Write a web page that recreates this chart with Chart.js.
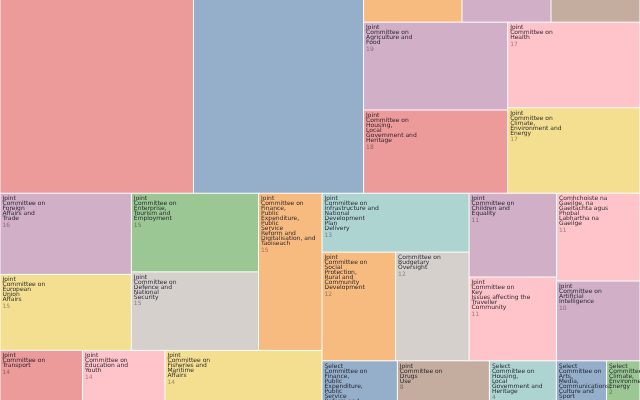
<!DOCTYPE html>
<html>
<head>
<meta charset="utf-8">
<script src="https://cdn.jsdelivr.net/npm/chart.js@4"></script>
<style>
  html, body { margin: 0; padding: 0; background: #fff; overflow: hidden; }
  body { width: 640px; height: 400px; position: relative; }
  /* the chart is square and sits centred in the 400px window */
  #wrap { position: absolute; left: 0; top: -120px; width: 640px; height: 640px; }
</style>
</head>
<body>
<div id="wrap"><canvas id="grafico"></canvas></div>
<script>
// Committees in source order (the colour follows the position in this list)
const committees = [
  "Committee of Public Accounts",
  "Joint Committee on Justice, Home Affairs and Migration",
  "Business Committee",
  "Joint Committee on Further and Higher Education, Research, Innovation and Science",
  "Joint Committee on Arts, Media, Communications, Culture and Sport",
  "Joint Committee on European Union Affairs",
  "Joint Committee on Disability Matters",
  "Joint Committee on Health",
  "Joint Committee on Autism",
  "Committee on Procedure",
  "Select Committee on Finance, Public Expenditure, Public Service Reform and Digitalisation, and Taoiseach",
  "Select Committee on Justice, Home Affairs and Migration",
  "Joint Committee on Housing, Local Government and Heritage",
  "Select Committee on Health",
  "Joint Committee on Enterprise, Tourism and Employment",
  "Joint Committee on Climate, Environment and Energy",
  "Joint Committee on Agriculture and Food",
  "Working Group of Committee Cathaoirligh",
  "Joint Committee on Drugs Use",
  "Joint Committee on Defence and National Security",
  "Select Committee on Arts, Media, Communications, Culture and Sport",
  "Joint Committee on Finance, Public Expenditure, Public Service Reform and Digitalisation, and Taoiseach",
  "Joint Committee on Transport",
  "Select Committee on Social Protection, Rural and Community Development",
  "Select Committee on Climate, Environment and Energy",
  "Select Committee on Agriculture and Food",
  "Joint Committee on Foreign Affairs and Trade",
  "Joint Committee on Education and Youth",
  "Joint Committee on Public Petitions and the Ombudsman",
  "Select Committee on Transport",
  "Select Committee on Education and Youth",
  "Joint Committee on Social Protection, Rural and Community Development",
  "Select Committee on Foreign Affairs and Trade",
  "Joint Committee on Infrastructure and National Development Plan Delivery",
  "Select Committee on Defence and National Security",
  "Joint Committee on Fisheries and Maritime Affairs",
  "Joint Committee on Children and Equality",
  "Joint Committee on Key Issues affecting the Traveller Community",
  "Select Committee on Children and Equality",
  "Committee on Budgetary Oversight",
  "Select Committee on Infrastructure and National Development Plan Delivery",
  "Committee on Members' Interests of Dáil Éireann",
  "Select Committee on Fisheries and Maritime Affairs",
  "Select Committee on Housing, Local Government and Heritage",
  "Select Committee on Enterprise, Tourism and Employment",
  "Select Committee on Further and Higher Education, Research, Innovation and Science",
  "Joint Committee on Artificial Intelligence",
  "Comhchoiste na Gaeilge, na Gaeltachta agus Phobal Labhartha na Gaeilge",
  "Committee on Standing Orders and Dáil Reform"
];

// Meetings per committee
const meetings = [
  80, 21, 91, 13, 13, 15, 19, 17, 19, 7,
  9, 9, 18, 7, 15, 17, 19, 1, 8, 15,
  3, 15, 14, 3, 2, 2, 16, 14, 14, 2,
  2, 12, 2, 13, 2, 14, 11, 11, 2, 12,
  2, 2, 1, 4, 4, 1, 10, 11, 1
];

// Tableau 10, washed out
const palette = [
  'rgba(78,121,167,0.6)', 'rgba(242,142,43,0.6)', 'rgba(225,87,89,0.6)',
  'rgba(118,183,178,0.6)', 'rgba(89,161,79,0.6)', 'rgba(237,201,72,0.6)',
  'rgba(176,122,161,0.6)', 'rgba(255,157,167,0.6)', 'rgba(156,117,95,0.6)',
  'rgba(186,176,172,0.6)'
];

const cells = committees
  .map((name, i) => ({ name, value: meetings[i], color: palette[i % palette.length] }))
  .sort((a, b) => b.value - a.value);

// Binary treemap (same splitting rule as d3.treemapBinary), in 0..1 units.
// aspect = how many pixels one x unit is worth compared with one y unit
function binaryLayout(nodes, aspect) {
  const sums = [0];
  nodes.forEach(n => sums.push(sums[sums.length - 1] + n.value));

  function part(i, j, value, x0, y0, x1, y1) {
    if (i >= j - 1) {
      Object.assign(nodes[i], { x0, y0, x1, y1 });
      return;
    }
    const offset = sums[i];
    const target = value / 2 + offset;
    let k = i + 1, hi = j - 1;
    while (k < hi) {
      const mid = (k + hi) >>> 1;
      if (sums[mid] < target) k = mid + 1; else hi = mid;
    }
    if (target - sums[k - 1] < sums[k] - target && i + 1 < k) --k;
    const left = sums[k] - offset;
    const right = value - left;
    if ((x1 - x0) * aspect > (y1 - y0)) {
      const xk = (x0 * right + x1 * left) / value;
      part(i, k, left, x0, y0, xk, y1);
      part(k, j, right, xk, y0, x1, y1);
    } else {
      const yk = (y0 * right + y1 * left) / value;
      part(i, k, left, x0, y0, x1, yk);
      part(k, j, right, x0, yk, x1, y1);
    }
  }
  part(0, nodes.length, sums[nodes.length], 0, 0, 1, 1);
}

// one word per line, lower-case words stay on the line before
function wrapLabel(name) {
  const lines = [];
  name.split(' ').forEach(w => {
    if (lines.length && /^[a-z]/.test(w)) lines[lines.length - 1] += ' ' + w;
    else lines.push(w);
  });
  return lines;
}

const treemapPlugin = {
  id: 'treemap',
  beforeDatasetsDraw(chart) {
    const { ctx, chartArea, scales: { x, y } } = chart;
    binaryLayout(cells, chartArea.width / chartArea.height);

    ctx.save();
    cells.forEach(c => {
      const l = x.getPixelForValue(c.x0), r = x.getPixelForValue(c.x1);
      const t = y.getPixelForValue(c.y0), b = y.getPixelForValue(c.y1);
      ctx.fillStyle = c.color;
      ctx.fillRect(l + 0.5, t + 0.5, r - l - 1, b - t - 1);
    });

    ctx.font = '6px "DejaVu Sans"';
    ctx.textBaseline = 'top';
    cells.forEach(c => {
      const lines = wrapLabel(c.name);
      const px = x.getPixelForValue(c.x0) + 2.5;
      const py = y.getPixelForValue(c.y0) + 2.5;
      ctx.fillStyle = 'rgba(20,20,30,0.9)';
      lines.forEach((line, i) => ctx.fillText(line, px, py + i * 5));
      ctx.fillStyle = 'rgba(0,0,0,0.4)';
      ctx.fillText(String(c.value), px, py + lines.length * 5 + 1.6);
    });
    ctx.restore();
  }
};

const ctx = document.getElementById('grafico').getContext('2d');
new Chart(ctx, {
  type: 'scatter',
  data: { datasets: [{ data: [], pointRadius: 0 }] },
  options: {
    responsive: true,
    maintainAspectRatio: false,
    animation: false,
    layout: { padding: 0 },
    plugins: { legend: { display: false }, tooltip: { enabled: false } },
    scales: {
      x: { type: 'linear', min: 0, max: 1, display: false },
      y: { type: 'linear', min: 0, max: 1, reverse: true, display: false }
    }
  },
  plugins: [treemapPlugin]
});
</script>
</body>
</html>
